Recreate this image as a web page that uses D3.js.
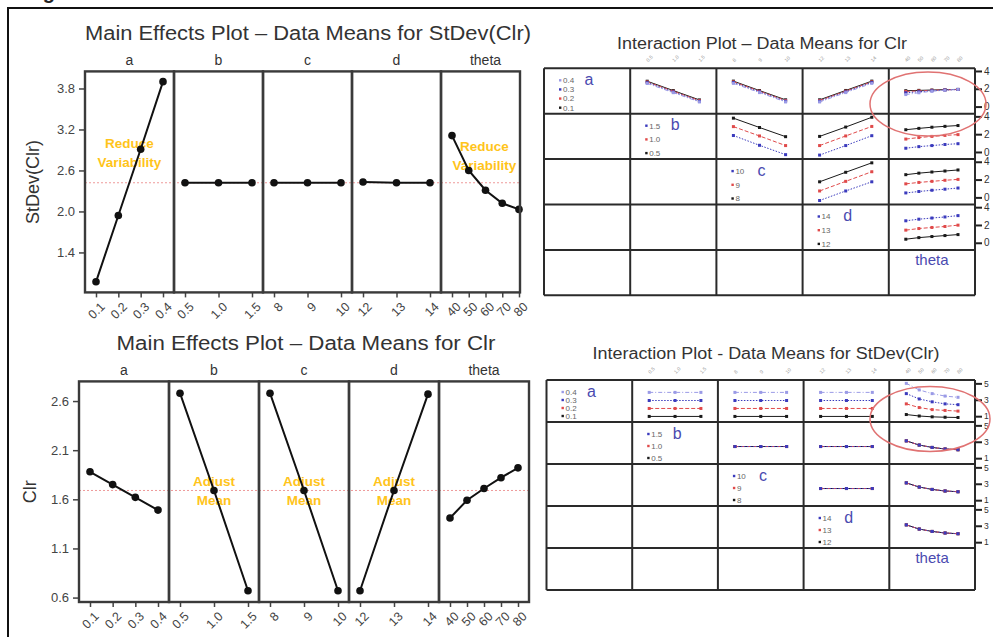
<!DOCTYPE html>
<html>
<head>
<meta charset="utf-8">
<script src="https://cdn.jsdelivr.net/npm/d3@7"></script>
<style>
    body { margin: 0; background: #fff; }
    svg { display: block; font-family: "Liberation Sans", Arial, sans-serif; }
</style>
</head>
<body>
<div id="chart"></div>
<script>
// factor levels and tick labels
const factorNames = ['a', 'b', 'c', 'd', 'theta'];
const levelsA = [0.1, 0.2, 0.3, 0.4];
const levelsB = [0.5, 1.0, 1.5];
const levelsC = [8, 9, 10];
const levelsD = [12, 13, 14];
const levelsTheta = [40, 50, 60, 70, 80];
const labelsA = ['0.1', '0.2', '0.3', '0.4'];
const labelsB = ['0.5', '1.0', '1.5'];
const labelsC = ['8', '9', '10'];
const labelsD = ['12', '13', '14'];
const labelsTheta = ['40', '50', '60', '70', '80'];

// main effects - StDev(Clr)
const sdMeansA = [0.97, 1.94, 2.91, 3.90];
const sdMeansB = [2.42, 2.42, 2.42];
const sdMeansC = [2.42, 2.42, 2.42];
const sdMeansD = [2.43, 2.42, 2.42];
const sdMeansTheta = [3.11, 2.60, 2.31, 2.12, 2.03];
const sdGrandMean = 2.42;
const sdTicks = [1.4, 2.0, 2.6, 3.2, 3.8];

// main effects - Clr
const clrMeansA = [1.88, 1.75, 1.62, 1.49];
const clrMeansB = [2.68, 1.69, 0.67];
const clrMeansC = [2.68, 1.69, 0.67];
const clrMeansD = [0.67, 1.69, 2.67];
const clrMeansTheta = [1.41, 1.59, 1.71, 1.82, 1.92];
const clrGrandMean = 1.69;
const clrTicks = [0.6, 1.1, 1.6, 2.1, 2.6];

// interaction means - Clr (one row per level of the row factor, lowest level first)
const clrIntAB = [[2.85, 1.80, 0.75], [2.77, 1.72, 0.67], [2.69, 1.64, 0.59], [2.60, 1.56, 0.52]];
const clrIntAC = [[2.86, 1.80, 0.76], [2.78, 1.73, 0.68], [2.70, 1.65, 0.60], [2.61, 1.57, 0.52]];
const clrIntAD = [[0.76, 1.81, 2.86], [0.68, 1.73, 2.78], [0.60, 1.65, 2.70], [0.52, 1.57, 2.61]];
const clrIntATheta = [[1.78, 1.82, 1.86, 1.90, 1.93], [1.70, 1.76, 1.83, 1.88, 1.92],
                      [1.55, 1.67, 1.78, 1.86, 1.92], [1.35, 1.55, 1.72, 1.84, 1.93]];
const clrIntBC = [[3.80, 2.75, 1.72], [2.85, 1.80, 0.72], [1.85, 0.75, -0.30]];
const clrIntBD = [[1.75, 2.80, 3.90], [0.72, 1.80, 2.87], [-0.35, 0.72, 1.83]];
const clrIntBTheta = [[2.50, 2.65, 2.78, 2.88, 2.97], [1.45, 1.62, 1.75, 1.86, 1.95], [0.42, 0.60, 0.72, 0.84, 0.93]];
const clrIntCD = [[1.75, 2.82, 3.88], [0.72, 1.80, 2.88], [-0.35, 0.72, 1.75]];
const clrIntCTheta = [[2.55, 2.72, 2.85, 2.96, 3.08], [1.52, 1.68, 1.80, 1.92, 2.02], [0.50, 0.66, 0.80, 0.92, 1.05]];
const clrIntDTheta = [[0.40, 0.58, 0.70, 0.81, 0.92], [1.42, 1.60, 1.72, 1.83, 1.98], [2.47, 2.65, 2.78, 2.90, 3.05]];
const clrIntTicks = [0, 2, 4];

// interaction means - StDev(Clr)
const sdIntAB = [[0.97, 0.97, 0.97], [1.94, 1.94, 1.94], [2.91, 2.91, 2.91], [3.90, 3.90, 3.90]];
const sdIntAC = [[0.97, 0.97, 0.97], [1.94, 1.94, 1.94], [2.91, 2.91, 2.91], [3.90, 3.90, 3.90]];
const sdIntAD = [[0.97, 0.97, 0.97], [1.94, 1.94, 1.94], [2.91, 2.91, 2.91], [3.90, 3.90, 3.90]];
const sdIntATheta = [[1.20, 1.02, 0.92, 0.87, 0.84], [2.50, 2.05, 1.80, 1.70, 1.62],
                     [3.75, 3.10, 2.75, 2.50, 2.40], [5.00, 4.20, 3.75, 3.45, 3.30]];
const sdIntBC = [[2.42, 2.42, 2.42], [2.42, 2.42, 2.42], [2.42, 2.42, 2.42]];
const sdIntBD = [[2.42, 2.42, 2.42], [2.42, 2.42, 2.42], [2.42, 2.42, 2.42]];
const sdIntBTheta = [[3.11, 2.60, 2.31, 2.12, 2.03], [3.11, 2.60, 2.31, 2.12, 2.03], [3.11, 2.60, 2.31, 2.12, 2.03]];
const sdIntCD = [[2.42, 2.42, 2.42], [2.42, 2.42, 2.42], [2.42, 2.42, 2.42]];
const sdIntCTheta = [[3.11, 2.60, 2.31, 2.12, 2.03], [3.11, 2.60, 2.31, 2.12, 2.03], [3.11, 2.60, 2.31, 2.12, 2.03]];
const sdIntDTheta = [[3.11, 2.60, 2.31, 2.12, 2.03], [3.11, 2.60, 2.31, 2.12, 2.03], [3.11, 2.60, 2.31, 2.12, 2.03]];
const sdIntTicks = [1, 3, 5];

const levels = [levelsA, levelsB, levelsC, levelsD, levelsTheta];
const labels = [labelsA, labelsB, labelsC, labelsD, labelsTheta];

// line style per level (lowest level first)
const levelStyles = [
    { color: '#1a1a1a', dash: null },
    { color: '#e04a4a', dash: '4,2' },
    { color: '#3b3bbd', dash: '1.5,1.5' },
    { color: '#9a9ae6', dash: '4,2,1,2' }
];

const svg = d3.select('#chart').append('svg')
    .attr('width', 993)
    .attr('height', 637);

// outer figure frame + caption fragment cut by the page edge
svg.append('text')
    .attr('x', 55)
    .attr('y', -1.5)
    .attr('text-anchor', 'end')
    .attr('font-size', 20)
    .attr('font-weight', 'bold')
    .attr('fill', '#222')
    .text('Fig');

svg.append('path')
    .attr('d', 'M8,637V8H993')
    .attr('fill', 'none')
    .attr('stroke', '#111')
    .attr('stroke-width', 2);

class MainEffectsPlot {
    constructor(_config, means, grandMean) {
        this.config = _config;
        this.means = means;
        this.grandMean = grandMean;
        this.initVis();
    }

    initVis() {
        let vis = this;
        const c = vis.config;

        vis.g = svg.append('g');
        vis.yScale = d3.scaleLinear()
            .domain(c.yDomain)
            .range([c.bottom, c.top]);

        // one panel (and x scale) per factor
        vis.panels = levels.map((lv, i) => {
            const x0 = c.left + i * c.panelWidth;
            const x1 = i === levels.length - 1 ? c.right : x0 + c.panelWidth;
            const xScale = d3.scaleLinear()
                .domain([lv[0], lv[lv.length - 1]])
                .range([x0 + c.pad, x0 + c.panelWidth - c.pad]);
            return { i, x0, x1, xScale };
        });

        vis.renderVis();
    }

    renderVis() {
        let vis = this;
        const c = vis.config;

        vis.g.append('text')
            .attr('x', c.titleX)
            .attr('y', c.titleY)
            .attr('text-anchor', 'middle')
            .attr('font-size', 19.5)
            .attr('textLength', c.titleWidth)
            .attr('lengthAdjust', 'spacingAndGlyphs')
            .attr('fill', '#333')
            .text(c.title);

        vis.g.append('text')
            .attr('transform', `translate(${c.yLabelX},${(c.top + c.bottom) / 2}) rotate(-90)`)
            .attr('text-anchor', 'middle')
            .attr('font-size', 18)
            .attr('fill', '#333')
            .text(c.yLabel);

        const yAxis = d3.axisLeft(vis.yScale)
            .tickValues(c.yTicks)
            .tickFormat(d3.format('.1f'))
            .tickSize(6)
            .tickPadding(4);

        vis.g.append('g')
            .attr('transform', `translate(${c.left},0)`)
            .call(yAxis)
            .call(g => g.select('.domain').remove())
            .call(g => g.selectAll('line').attr('stroke', '#444').attr('stroke-width', 1.5))
            .call(g => g.selectAll('text').attr('fill', '#444').attr('font-size', 13)
                .attr('font-family', '"Liberation Sans", Arial, sans-serif'));

        vis.panels.forEach(p => {
            // factor name above panel
            vis.g.append('text')
                .attr('x', (p.x0 + p.x0 + c.panelWidth) / 2)
                .attr('y', c.top - 6)
                .attr('text-anchor', 'middle')
                .attr('font-size', 14)
                .attr('fill', '#333')
                .text(factorNames[p.i]);

            // x axis with rotated labels
            const xAxis = d3.axisBottom(p.xScale)
                .tickValues(levels[p.i])
                .tickFormat((d, k) => labels[p.i][k])
                .tickSize(5);

            vis.g.append('g')
                .attr('transform', `translate(0,${c.bottom})`)
                .call(xAxis)
                .call(g => g.select('.domain').remove())
                .call(g => g.selectAll('line').attr('stroke', '#444').attr('stroke-width', 1.5))
                .call(g => g.selectAll('text')
                    .attr('y', 0)
                    .attr('dy', '0.35em')
                    .attr('transform', 'translate(6,12) rotate(-45)')
                    .attr('text-anchor', 'end')
                    .attr('fill', '#444')
                    .attr('font-size', 12.5)
                    .attr('font-family', '"Liberation Sans", Arial, sans-serif'));
        });

        // annotations in gold
        c.notes.forEach(n => {
            const p = vis.panels[n.panel];
            n.lines.forEach((t, k) => {
                vis.g.append('text')
                    .attr('x', (p.x0 + p.x0 + c.panelWidth) / 2 + (n.dx || 0))
                    .attr('y', n.y + k * 19)
                    .attr('text-anchor', 'middle')
                    .attr('font-size', 13.5)
                    .attr('font-weight', 'bold')
                    .attr('fill', '#ffc41a')
                    .text(t);
            });
        });

        // grand mean reference line
        vis.g.append('line')
            .attr('x1', c.left)
            .attr('x2', c.right)
            .attr('y1', vis.yScale(vis.grandMean))
            .attr('y2', vis.yScale(vis.grandMean))
            .attr('stroke', '#ee9a9a')
            .attr('stroke-width', 1)
            .attr('stroke-dasharray', '2,2');

        // means per factor
        const line = d3.line();
        vis.panels.forEach(p => {
            const pts = levels[p.i].map((lv, k) => [p.xScale(lv), vis.yScale(vis.means[p.i][k])]);
            vis.g.append('path')
                .attr('d', line(pts))
                .attr('fill', 'none')
                .attr('stroke', '#111')
                .attr('stroke-width', 2);
            vis.g.selectAll(null)
                .data(pts)
                .join('circle')
                .attr('cx', d => d[0])
                .attr('cy', d => d[1])
                .attr('r', 3.8)
                .attr('fill', '#111');
        });

        // panel frames
        vis.g.selectAll(null)
            .data(vis.panels)
            .join('rect')
            .attr('x', d => d.x0)
            .attr('y', c.top)
            .attr('width', d => d.x1 - d.x0)
            .attr('height', c.bottom - c.top)
            .attr('fill', 'none')
            .attr('stroke', '#3a3a3a')
            .attr('stroke-width', 2.4);
    }
}

class InteractionPlot {
    constructor(_config, cells) {
        this.config = _config;
        this.cells = cells;
        this.initVis();
    }

    initVis() {
        let vis = this;
        const c = vis.config;

        vis.g = svg.append('g');
        vis.n = levels.length;
        vis.colX = d3.range(vis.n + 1).map(i => c.left + i * c.cellWidth);
        vis.rowY = d3.range(vis.n + 1).map(i => c.top + i * c.cellHeight);
        vis.right = vis.colX[vis.n];

        // x scale for each column factor
        vis.xScales = levels.map((lv, j) => d3.scaleLinear()
            .domain([lv[0], lv[lv.length - 1]])
            .range([vis.colX[j] + c.pad, vis.colX[j + 1] - c.pad]));

        vis.renderVis();
    }

    yScaleFor(row) {
        let vis = this;
        return d3.scaleLinear()
            .domain(vis.config.yDomain)
            .range([vis.rowY[row + 1], vis.rowY[row]]);
    }

    renderVis() {
        let vis = this;
        const c = vis.config;

        vis.g.append('text')
            .attr('x', c.titleX)
            .attr('y', c.titleY)
            .attr('text-anchor', 'middle')
            .attr('font-size', 16)
            .attr('textLength', c.titleWidth)
            .attr('lengthAdjust', 'spacingAndGlyphs')
            .attr('fill', '#333')
            .text(c.title);

        // tiny level labels above columns b..theta
        levels.forEach((lv, j) => {
            if (j === 0) return;
            lv.forEach((v, k) => {
                vis.g.append('text')
                    .attr('transform', `translate(${vis.xScales[j](v) + 1},${c.top - 6}) rotate(-45)`)
                    .attr('font-size', 5)
                    .attr('fill', '#999')
                    .text(labels[j][k]);
            });
        });

        const line = d3.line();
        for (let i = 0; i < vis.n; i++) {
            const yScale = vis.yScaleFor(i);
            for (let j = i; j < vis.n; j++) {
                if (i === j) {
                    vis.drawLegend(i);
                    continue;
                }
                const series = vis.cells[`${i}${j}`];
                series.forEach((vals, k) => {
                    const st = levelStyles[k];
                    const pts = levels[j].map((lv, m) => [vis.xScales[j](lv), yScale(vals[m])]);
                    vis.g.append('path')
                        .attr('d', line(pts))
                        .attr('fill', 'none')
                        .attr('stroke', st.color)
                        .attr('stroke-width', 1)
                        .attr('stroke-dasharray', st.dash);
                    vis.g.selectAll(null)
                        .data(pts)
                        .join('rect')
                        .attr('x', d => d[0] - 1.5)
                        .attr('y', d => d[1] - 1.5)
                        .attr('width', 3)
                        .attr('height', 3)
                        .attr('fill', st.color);
                });
            }

            // right axis for rows with plots
            if (i < vis.n - 1) {
                const yAxis = d3.axisRight(yScale)
                    .tickValues(c.yTicks)
                    .tickFormat(d3.format('d'))
                    .tickSize(7)
                    .tickPadding(2);
                vis.g.append('g')
                    .attr('transform', `translate(${vis.right},0)`)
                    .call(yAxis)
                    .call(g => g.select('.domain').remove())
                    .call(g => g.selectAll('line').attr('stroke', '#222').attr('stroke-width', 2))
                    .call(g => g.selectAll('text').attr('fill', '#333').attr('font-size', c.axisFont)
                        .attr('font-family', '"Liberation Sans", Arial, sans-serif'));
            }
        }

        // grid
        vis.g.selectAll(null)
            .data(vis.rowY)
            .join('line')
            .attr('x1', vis.colX[0])
            .attr('x2', vis.right)
            .attr('y1', d => d)
            .attr('y2', d => d)
            .attr('stroke', '#2a2a2a')
            .attr('stroke-width', 2);
        vis.g.selectAll(null)
            .data(vis.colX)
            .join('line')
            .attr('x1', d => d)
            .attr('x2', d => d)
            .attr('y1', vis.rowY[0])
            .attr('y2', vis.rowY[vis.n])
            .attr('stroke', '#2a2a2a')
            .attr('stroke-width', 2);

        // highlight ellipse
        vis.g.append('ellipse')
            .attr('cx', c.ellipse.cx)
            .attr('cy', c.ellipse.cy)
            .attr('rx', c.ellipse.rx)
            .attr('ry', c.ellipse.ry)
            .attr('fill', 'none')
            .attr('stroke', '#e07272')
            .attr('stroke-width', 1.5);
    }

    drawLegend(i) {
        let vis = this;
        const c = vis.config;
        const x0 = vis.colX[i];
        const y0 = vis.rowY[i];

        if (i === vis.n - 1) {
            vis.g.append('text')
                .attr('x', (vis.colX[i] + vis.colX[i + 1]) / 2)
                .attr('y', y0 + 15)
                .attr('text-anchor', 'middle')
                .attr('font-size', 15)
                .attr('fill', '#4a4ab0')
                .text(factorNames[i]);
            return;
        }

        const lv = labels[i];
        const count = lv.length;
        const step = (c.cellHeight - 18) / (count - 1);
        lv.forEach((t, k) => {
            const idx = count - 1 - k;   // highest level listed first
            const y = y0 + 12 + k * step;
            vis.g.append('rect')
                .attr('x', x0 + 15)
                .attr('y', y - 1.2)
                .attr('width', 2.4)
                .attr('height', 2.4)
                .attr('fill', levelStyles[idx].color);
            vis.g.append('text')
                .attr('x', x0 + 19)
                .attr('y', y)
                .attr('dy', '0.35em')
                .attr('font-size', 8)
                .attr('fill', '#666')
                .text(lv[idx]);
        });

        vis.g.append('text')
            .attr('x', x0 + 45)
            .attr('y', y0 + 11)
            .attr('dy', '0.35em')
            .attr('text-anchor', 'middle')
            .attr('font-size', 16)
            .attr('fill', '#4a4ab0')
            .text(factorNames[i]);
    }
}

new MainEffectsPlot({
    title: 'Main Effects Plot \u2013 Data Means for StDev(Clr)',
    titleX: 308, titleY: 40, titleWidth: 446,
    yLabel: 'StDev(Clr)', yLabelX: 39,
    left: 85, right: 520, panelWidth: 89, pad: 11,
    top: 71.4, bottom: 292.4,
    yDomain: [0.815, 4.05], yTicks: sdTicks,
    notes: [
        { panel: 0, y: 148, lines: ['Reduce', 'Variability'] },
        { panel: 4, y: 151, dx: -1, lines: ['Reduce', 'Variability'] }
    ]
}, [sdMeansA, sdMeansB, sdMeansC, sdMeansD, sdMeansTheta], sdGrandMean);

new MainEffectsPlot({
    title: 'Main Effects Plot \u2013 Data Means for Clr',
    titleX: 306, titleY: 350, titleWidth: 379,
    yLabel: 'Clr', yLabelX: 36,
    left: 79, right: 529, panelWidth: 90, pad: 11,
    top: 381.4, bottom: 602,
    yDomain: [0.555, 2.8], yTicks: clrTicks,
    notes: [
        { panel: 1, y: 486, lines: ['Adjust', 'Mean'] },
        { panel: 2, y: 486, lines: ['Adjust', 'Mean'] },
        { panel: 3, y: 486, lines: ['Adjust', 'Mean'] }
    ]
}, [clrMeansA, clrMeansB, clrMeansC, clrMeansD, clrMeansTheta], clrGrandMean);

new InteractionPlot({
    title: 'Interaction Plot \u2013 Data Means for Clr',
    titleX: 762, titleY: 49, titleWidth: 290,
    left: 544, top: 68.3, cellWidth: 86.2, cellHeight: 45.4, pad: 17,
    yDomain: [-0.8, 4.3], yTicks: clrIntTicks, axisFont: 10,
    ellipse: { cx: 928, cy: 104, rx: 58, ry: 32 }
}, {
    '01': clrIntAB, '02': clrIntAC, '03': clrIntAD, '04': clrIntATheta,
    '12': clrIntBC, '13': clrIntBD, '14': clrIntBTheta,
    '23': clrIntCD, '24': clrIntCTheta,
    '34': clrIntDTheta
});

new InteractionPlot({
    title: 'Interaction Plot - Data Means for StDev(Clr)',
    titleX: 766, titleY: 359, titleWidth: 347,
    left: 546.5, top: 380, cellWidth: 85.7, cellHeight: 42, pad: 17,
    yDomain: [0.29, 5.41], yTicks: sdIntTicks, axisFont: 8.5,
    ellipse: { cx: 930, cy: 419, rx: 60, ry: 32.5 }
}, {
    '01': sdIntAB, '02': sdIntAC, '03': sdIntAD, '04': sdIntATheta,
    '12': sdIntBC, '13': sdIntBD, '14': sdIntBTheta,
    '23': sdIntCD, '24': sdIntCTheta,
    '34': sdIntDTheta
});
</script>
</body>
</html>
